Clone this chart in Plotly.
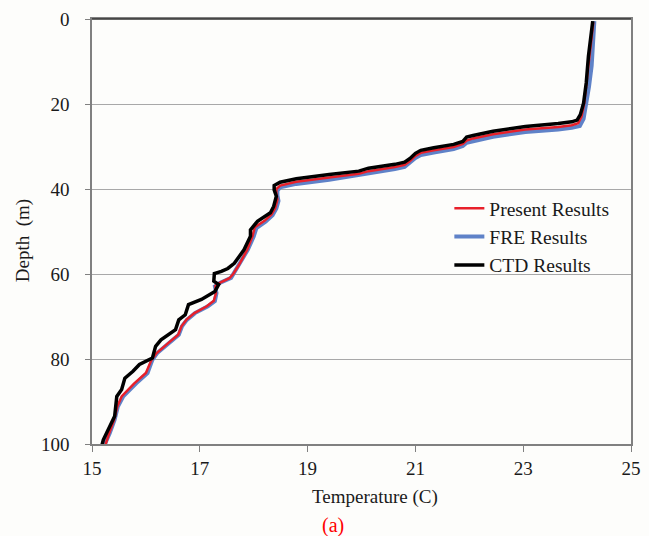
import plotly.graph_objects as go

# CTD Results (black)
ctd_temp = [24.29, 24.26, 24.21, 24.17, 24.12, 24.06, 24.00, 23.90, 23.65, 23.04, 22.44, 22.07, 21.95, 21.88,
            21.71, 21.34, 21.10, 21.00, 20.90, 20.80, 20.62, 20.13, 19.95, 19.40, 18.79, 18.49, 18.38, 18.38,
            18.42, 18.37, 18.31, 18.07, 17.94, 17.94, 17.82, 17.64, 17.52, 17.40, 17.27, 17.26, 17.35, 17.28,
            17.03, 16.79, 16.73, 16.61, 16.55, 16.28, 16.18, 16.12, 15.88, 15.76, 15.61, 15.55, 15.46, 15.42,
            15.30, 15.21, 15.18]
ctd_depth = [0.5, 3.2, 8.8, 15.0, 19.8, 22.5, 23.8, 24.2, 24.6, 25.3, 26.4, 27.4, 27.8, 28.8,
             29.5, 30.3, 30.9, 31.6, 32.8, 33.7, 34.2, 35.1, 35.8, 36.6, 37.6, 38.4, 39.2, 40.2,
             41.7, 44.1, 45.6, 47.6, 49.6, 51.1, 54.3, 57.5, 58.7, 59.4, 59.9, 61.7, 62.5, 64.1,
             66.0, 67.2, 69.6, 70.8, 73.1, 75.5, 77.0, 79.8, 81.3, 82.9, 84.5, 87.2, 88.8, 93.5,
             96.6, 99.0, 100.5]

# Present Results (red)
present_temp = [24.30, 24.27, 24.23, 24.18, 24.13, 24.08, 24.02, 23.90, 23.65, 23.04, 22.44, 22.07, 21.95, 21.88,
                21.71, 21.34, 21.10, 21.00, 20.90, 20.80, 20.62, 20.13, 19.95, 19.40, 18.79, 18.49, 18.42, 18.42,
                18.44, 18.40, 18.33, 18.20, 18.02, 17.98, 17.88, 17.72, 17.62, 17.55, 17.37, 17.29, 17.30, 17.26,
                17.13, 16.90, 16.75, 16.66, 16.60, 16.42, 16.20, 16.10, 16.00, 15.78, 15.55, 15.47, 15.41, 15.32,
                15.25]
present_depth = [0.8, 4.0, 9.5, 15.0, 20.0, 23.0, 24.5, 25.0, 25.4, 26.0, 27.1, 28.1, 28.6, 29.4,
                 30.1, 30.9, 31.5, 32.2, 33.4, 34.3, 34.8, 35.8, 36.4, 37.3, 38.3, 39.2, 40.0, 41.0,
                 42.5, 44.5, 46.0, 47.5, 49.0, 51.0, 54.3, 58.0, 60.0, 61.0, 62.1, 62.8, 64.5, 66.3,
                 67.6, 69.2, 70.8, 72.3, 74.3, 76.2, 78.6, 80.3, 83.3, 85.8, 88.8, 91.2, 94.3, 97.4,
                 100.2]

# FRE Results (blue)
fre_temp = [24.32, 24.30, 24.27, 24.22, 24.17, 24.12, 24.05, 23.90, 23.65, 23.04, 22.44, 22.07, 21.95, 21.88,
            21.71, 21.34, 21.10, 21.00, 20.90, 20.80, 20.62, 20.13, 19.95, 19.40, 18.79, 18.49, 18.44, 18.44,
            18.46, 18.42, 18.35, 18.22, 18.05, 18.00, 17.89, 17.70, 17.64, 17.58, 17.37, 17.28, 17.31, 17.28,
            17.15, 16.91, 16.76, 16.67, 16.61, 16.43, 16.21, 16.12, 16.03, 15.82, 15.58, 15.48, 15.42, 15.33,
            15.24]
fre_depth = [0.5, 4.0, 11.0, 16.0, 20.0, 23.5, 25.2, 25.6, 26.0, 26.6, 27.7, 28.6, 29.1, 29.9,
             30.6, 31.4, 32.0, 32.7, 33.9, 34.8, 35.3, 36.3, 36.9, 37.8, 38.8, 39.6, 40.4, 41.5,
             42.8, 44.6, 46.2, 47.7, 49.2, 51.2, 54.3, 58.2, 59.8, 60.9, 62.1, 62.9, 64.5, 66.4,
             67.6, 69.2, 70.8, 72.3, 74.3, 76.2, 78.6, 80.2, 83.3, 85.7, 88.8, 91.2, 94.3, 97.4,
             100.0]

x_ticks = [15, 17, 19, 21, 23, 25]
y_ticks = [0, 20, 40, 60, 80, 100]

FONT = "Liberation Serif, Times New Roman, serif"

fig = go.Figure()
fig.add_trace(go.Scatter(x=fre_temp, y=fre_depth, mode="lines", name="FRE Results",
                         line=dict(color="#5F82C8", width=4), legendrank=2))
fig.add_trace(go.Scatter(x=present_temp, y=present_depth, mode="lines", name="Present Results",
                         line=dict(color="#E8202A", width=2.5), legendrank=1))
fig.add_trace(go.Scatter(x=ctd_temp, y=ctd_depth, mode="lines", name="CTD Results",
                         line=dict(color="#000000", width=3.5), legendrank=3))

fig.update_layout(
    width=649, height=536,
    margin=dict(l=92, r=8, t=19, b=92),
    paper_bgcolor="#FDFDFB", plot_bgcolor="#FDFDFB",
    font=dict(family=FONT, size=19, color="#1a1a1a"),
    showlegend=True,
    legend=dict(x=0.663, y=0.6, xanchor="left", yanchor="top",
                bgcolor="rgba(0,0,0,0)", borderwidth=0,
                font=dict(family=FONT, size=19.5, color="#1a1a1a"),
                tracegroupgap=0),
    xaxis=dict(range=[15, 25], tickvals=x_ticks, ticks="outside", ticklen=6, tickcolor="#808080",
               showgrid=False, zeroline=False, showline=True, linecolor="#808080", linewidth=1.5,
               mirror=True, tickfont=dict(family=FONT, size=19)),
    yaxis=dict(range=[100, 0], tickvals=y_ticks, ticks="outside", ticklen=5, tickcolor="#808080",
               showgrid=True, gridcolor="#A8A8A8", gridwidth=1.2, zeroline=False,
               showline=True, linecolor="#808080", linewidth=1.5, mirror=True,
               tickfont=dict(family=FONT, size=19), ticklabelstandoff=12),
)

fig.add_shape(type="line", xref="paper", yref="paper", x0=0, x1=1, y0=1, y1=1,
              line=dict(color="#333333", width=1.5))

fig.add_annotation(text="Temperature (C)", xref="paper", yref="paper",
                   x=(380 - 92) / 549, y=-(497 - 444) / 425, xanchor="center", yanchor="middle",
                   showarrow=False, font=dict(family=FONT, size=19, color="#1a1a1a"))
fig.add_annotation(text="Depth&nbsp; (m)", xref="paper", yref="paper", textangle=-90,
                   x=-(92 - 22) / 549, y=(444 - 241) / 425, xanchor="center", yanchor="middle",
                   showarrow=False, font=dict(family=FONT, size=19, color="#1a1a1a"))
fig.add_annotation(text="(a)", xref="paper", yref="paper",
                   x=(337 - 92) / 549, y=-(525 - 444) / 425, xanchor="center", yanchor="middle",
                   showarrow=False, font=dict(family=FONT, size=20, color="#FF0000"))

fig.write_html("out.html")
